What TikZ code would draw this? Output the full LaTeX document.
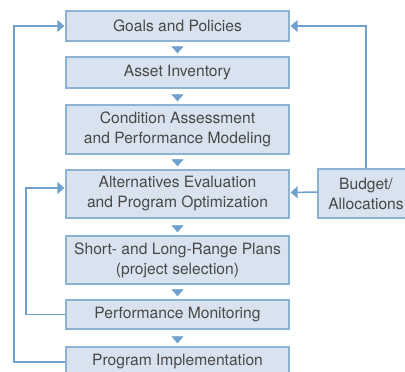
\documentclass[tikz,border=0pt]{standalone}
\usepackage{fontspec}
\setmainfont{TeX Gyre Heros}
\usetikzlibrary{arrows.meta}
\definecolor{boxfill}{RGB}{216,227,239}
\definecolor{boxline}{RGB}{140,178,213}
\definecolor{flowblue}{RGB}{112,160,206}
\definecolor{txtgray}{RGB}{72,72,72}
\tikzset{
  flow_box/.style = {rectangle, draw=boxline, fill=boxfill, line width=1.3pt,
    align=center, inner sep=0pt, text=txtgray,
    font=\fontsize{15.6}{20}\selectfont, minimum width=223pt},% main column
  flow_tip/.style = {-{Triangle[length=7pt,width=12pt]}, draw=flowblue,
    fill=flowblue, line width=0.4pt, shorten <=6pt, shorten >=3pt},% tip only
  loop_line/.style = {-{Triangle[length=7pt,width=12pt]}, draw=flowblue,
    line width=1.5pt, shorten >=1pt},
}
\begin{document}
\begin{tikzpicture}[x=1pt,y=-1pt]
  \path[use as bounding box, clip] (0,0) rectangle (405,372);

  \node[flow_box, minimum height=30pt] (goals) at (177.5,26) {Goals and Policies};
  \node[flow_box, minimum height=31pt] (inv) at (177.5,72.5) {Asset Inventory};
  \node[flow_box, minimum height=49pt] (cond) at (177.5,129.5) {Condition Assessment\\and Performance Modeling};
  \node[flow_box, minimum height=48pt] (alt) at (177.5,194) {Alternatives Evaluation\\and Program Optimization};
  \node[flow_box, minimum height=48pt] (plans) at (177.5,260) {Short- and Long-Range Plans\\(project selection)};
  \node[flow_box, minimum height=29pt] (mon) at (177.5,314.5) {Performance Monitoring};
  \node[flow_box, minimum height=30pt] (impl) at (177.5,362) {Program Implementation};

  \node[flow_box, minimum width=96pt, minimum height=49pt] (budget) at (366,193.5) {Budget/\\Allocations};

  \coordinate (outer) at (14,0);
  \coordinate (inner) at (26,0);

  % main sequence
  \path (goals) edge[flow_tip] (inv);
  \path (inv) edge[flow_tip] (cond);
  \path (cond) edge[flow_tip] (alt);
  \path (alt) edge[flow_tip] (plans);
  \path (plans) edge[flow_tip] (mon);
  \path (mon) edge[flow_tip] (impl);

  % feedback
  \draw[loop_line] (impl.west) -- (impl.west -| outer) |- (goals.west);
  \draw[loop_line] (mon.west) -- (mon.west -| inner) |- ([yshift=6pt]alt.west);
  \draw[loop_line] (budget.north) |- (goals.east);
  \draw[loop_line] ([yshift=1.5pt]budget.west) -- ([yshift=1.5pt]alt.east);
\end{tikzpicture}
\end{document}
